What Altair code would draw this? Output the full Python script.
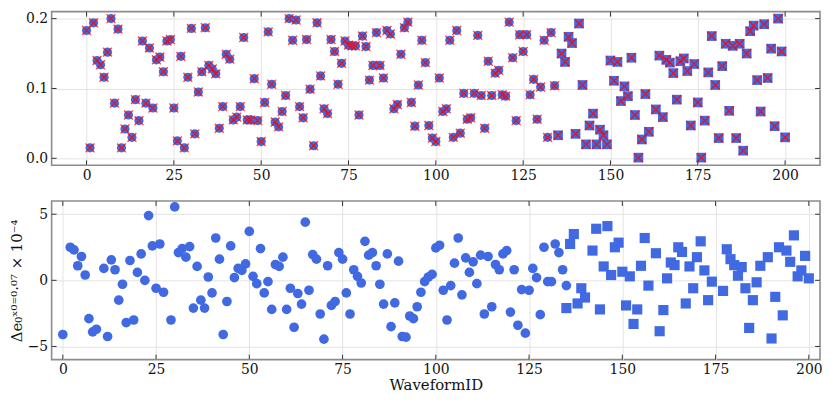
import altair as alt
import pandas as pd

# ---------------- data ----------------
x_ticks = [0, 25, 50, 75, 100, 125, 150, 175, 200]
top_y_ticks = [0.0, 0.1, 0.2]
bot_y_ticks = [-5, 0, 5]

# top panel: e0 values, circles for WaveformID 0..134
top_circle_ids = list(range(0, 135))
top_circle_e0 = [
    0.183, 0.015, 0.194, 0.140, 0.134, 0.116, 0.152, 0.200, 0.079, 0.185,
    0.015, 0.042, 0.062, 0.030, 0.084, 0.054, 0.168, 0.079, 0.158, 0.072,
    0.141, 0.145, 0.124, 0.168, 0.170, 0.072, 0.025, 0.146, 0.015, 0.116,
    0.186, 0.035, 0.095, 0.124, 0.187, 0.133, 0.128, 0.121, 0.043, 0.074,
    0.149, 0.142, 0.055, 0.059, 0.074, 0.173, 0.055, 0.055, 0.114, 0.054,
    0.024, 0.080, 0.181, 0.106, 0.052, 0.045, 0.067, 0.090, 0.200, 0.169,
    0.198, 0.074, 0.058, 0.170, 0.099, 0.018, 0.194, 0.118, 0.071, 0.064,
    0.170, 0.153, 0.106, 0.136, 0.168, 0.162, 0.161, 0.161, 0.062, 0.175,
    0.160, 0.112, 0.133, 0.180, 0.133, 0.115, 0.183, 0.178, 0.071, 0.077,
    0.149, 0.187, 0.195, 0.080, 0.046, 0.105, 0.169, 0.137, 0.047, 0.029,
    0.024, 0.115, 0.067, 0.071, 0.169, 0.030, 0.183, 0.036, 0.093, 0.056,
    0.058, 0.093, 0.176, 0.090, 0.043, 0.139, 0.090, 0.122, 0.126, 0.091,
    0.089, 0.195, 0.144, 0.054, 0.177, 0.153, 0.177, 0.091, 0.113, 0.056,
    0.102, 0.169, 0.030, 0.180, 0.104,
]

# top panel: squares
top_square_ids = list(range(135, 162)) + list(range(163, 201))
top_square_e0 = [
    0.033, 0.150, 0.138, 0.174, 0.165, 0.035, 0.193, 0.105, 0.020, 0.047,
    0.064, 0.020, 0.041, 0.033, 0.020,
    0.140, 0.111, 0.138, 0.082, 0.103, 0.089, 0.144, 0.062, 0.001, 0.027,
    0.092, 0.038,
    0.070, 0.147, 0.059, 0.141, 0.137, 0.122, 0.084, 0.139, 0.143, 0.125,
    0.047, 0.135, 0.080, 0.001, 0.054, 0.123, 0.175, 0.105, 0.029, 0.132,
    0.164, 0.068, 0.161, 0.029, 0.164, 0.011, 0.150, 0.182, 0.190, 0.112,
    0.067, 0.192, 0.115, 0.157, 0.046, 0.200, 0.153, 0.030,
]

# bottom panel: delta e0 (x 1e-4), circles
bot_circle_ids = [i for i in range(0, 136) if i not in (1, 10, 28)]
bot_circle_de = [
    -4.1, 2.5, 2.3, 1.1, 1.8, 0.4, -2.9, -3.9, -3.7,
    0.9, -4.25, 1.55, 0.8, -1.5, -0.3, -3.2, 1.5, -3.0,
    0.6, 2.0, 0.0, 4.9, 2.6, -0.6, 2.75, -0.9,
    -3.0, 5.55, 2.1, 2.4, 1.75, 2.55, -2.1, 1.05, -1.5, -2.1,
    0.25, -0.95, 3.2, 1.6, -4.1, -1.6, 2.6, 0.2, 0.9, 0.75,
    1.25, 3.7, 0.3, -0.25, 2.4, -0.95, -0.1,
    -2.2, 1.2, 1.05, 1.75, -2.2, -0.6, -3.55, -1.0, -1.8, 4.4,
    -0.75, 1.95, 1.6, -2.55, -4.45, 1.1, -1.9, -1.6, 2.1, 1.6,
    -0.95, -2.55, 0.8, 0.3, -0.2, 2.95, 1.9, 2.1, 1.1, -0.3,
    -1.8, 2.0, -3.5, -1.7, 1.45, -4.25, -4.3, -2.7, -2.9, -2.0,
    -0.9, -0.1, 0.25, 0.45, 2.45,
    2.65, -0.75, -3.0, -0.4, 1.3, 3.2, -1.1, 1.7, 0.6, 1.4,
    -0.25, 1.9, -2.55, 1.8, -2.0, 1.2, 0.8, 2.0, 2.25, -2.4,
    0.8, -3.4, -0.7, -4.0, -0.75, 0.9, 0.2, -2.6, 2.5, -0.1,
    -0.1, 2.75, 2.1, 0.8, -0.4,
]

# bottom panel: squares
bot_square_ids = (list(range(135, 141)) + list(range(142, 158)) + list(range(159, 175))
                  + list(range(177, 188)) + list(range(189, 201)))
bot_square_de = [
    -2.1, 2.75, 3.5, -1.75, -0.6, -1.3,
    2.25, 3.9, -2.2, 1.05, 4.1, 0.4, 2.5, 2.85, 0.65, -1.9, 0.3, -3.3,
    -2.2, 1.1, 3.2, -0.4,
    2.05, -3.85, -2.25, 0.15, 1.35, 1.15, 2.5, 2.15, -1.75, 1.05, -0.6, 1.75,
    2.95, 0.75, -1.5, -0.1,
    -0.8, 2.35, 1.6, 1.15, 0.35, 1.0, -0.6, -3.6, -1.5, -0.15, 1.1,
    1.75, -4.4, -1.25, 2.5, -2.65, 2.25, 1.4, 3.4, 0.3, 0.75, 1.85, 0.15,
]

# ---------------- styling ----------------
BLUE = "#4169e1"
RED = "#ff0000"
FONT = "DejaVu Serif"
W = 775
H_TOP = 155
H_BOT = 160
TICK_COLOR = "#333333"
XMARK = "M-1,-1L1,1M-1,1L1,-1"

top_c = pd.DataFrame({"id": top_circle_ids, "val": top_circle_e0})
top_s = pd.DataFrame({"id": top_square_ids, "val": top_square_e0})
top_all = pd.concat([top_c, top_s], ignore_index=True)
bot_c = pd.DataFrame({"id": bot_circle_ids, "val": bot_circle_de})
bot_s = pd.DataFrame({"id": bot_square_ids, "val": bot_square_de})


def axis_x(title):
    return alt.Axis(values=x_ticks, title=title, grid=True, ticks=False, domain=False,
                    labelPadding=3, titlePadding=1)


def inward_ticks(xenc, yenc, yticks, h):
    xt = pd.DataFrame({"id": x_ticks})
    yt = pd.DataFrame({"val": yticks})
    base_x = alt.Chart(xt).mark_rule(color=TICK_COLOR, strokeWidth=1)
    base_y = alt.Chart(yt).mark_rule(color=TICK_COLOR, strokeWidth=1)
    xb = base_x.encode(x=xenc, y=alt.value(h), y2=alt.value(h - 5))
    xtop = base_x.encode(x=xenc, y=alt.value(0), y2=alt.value(5))
    yl = base_y.encode(y=yenc, x=alt.value(0), x2=alt.value(5))
    yr = base_y.encode(y=yenc, x=alt.value(W), x2=alt.value(W - 5))
    return [xb, xtop, yl, yr]


# ---------------- top panel ----------------
xs_top = alt.Scale(domain=[-10, 210], nice=False, zero=False)
ys_top = alt.Scale(domain=[-0.01, 0.21], nice=False, zero=False)
x_top = alt.X("id:Q", scale=xs_top, axis=axis_x(None))
y_top = alt.Y("val:Q", scale=ys_top,
              axis=alt.Axis(values=top_y_ticks, format=".1f", title=None, grid=True,
                            ticks=False, domain=False, labelPadding=4))

tc = alt.Chart(top_c).mark_point(shape="circle", filled=True, color=BLUE, opacity=1, size=85).encode(x=x_top, y=y_top)
ts = alt.Chart(top_s).mark_point(shape="square", filled=True, color=BLUE, opacity=1, size=95).encode(x=x_top, y=y_top)
tx = alt.Chart(top_all).mark_point(shape=XMARK, filled=False, stroke=RED, strokeWidth=1.5, size=80).encode(x=x_top, y=y_top)

top = alt.layer(tc, ts, tx, *inward_ticks(x_top, y_top, top_y_ticks, H_TOP)).properties(width=W, height=H_TOP)

# ---------------- bottom panel ----------------
xs_bot = alt.Scale(domain=[-3, 203], nice=False, zero=False)
ys_bot = alt.Scale(domain=[-6, 6], nice=False, zero=False)
x_bot = alt.X("id:Q", scale=xs_bot, axis=axis_x("WaveformID"))
y_bot = alt.Y("val:Q", scale=ys_bot,
              axis=alt.Axis(values=bot_y_ticks, format="d",
                            title="Δe₀ˣ⁰⁼⁰·⁰⁷ × 10⁻⁴", grid=True,
                            ticks=False, domain=False, labelPadding=4, titlePadding=3))

bc = alt.Chart(bot_c).mark_point(shape="circle", filled=True, color=BLUE, opacity=1, size=95).encode(x=x_bot, y=y_bot)
bs = alt.Chart(bot_s).mark_point(shape="square", filled=True, color=BLUE, opacity=1, size=105).encode(x=x_bot, y=y_bot)

bottom = alt.layer(bc, bs, *inward_ticks(x_bot, y_bot, bot_y_ticks, H_BOT)).properties(width=W, height=H_BOT)

chart = (
    alt.vconcat(top, bottom, spacing=16, padding={"left": 0, "top": 0, "right": 0, "bottom": 0})
    .resolve_scale(x="independent", y="independent")
    .configure_view(stroke="#8c8c8c", strokeWidth=1.6)
    .configure_axis(labelFont=FONT, labelFontSize=14, labelColor="#111111",
                    titleFont=FONT, titleFontSize=15, titleFontWeight="normal", titleColor="#111111",
                    gridColor="#e3e3e3", gridWidth=1)
)

chart.save("out.html", embed_options={"renderer": "svg", "actions": False})
